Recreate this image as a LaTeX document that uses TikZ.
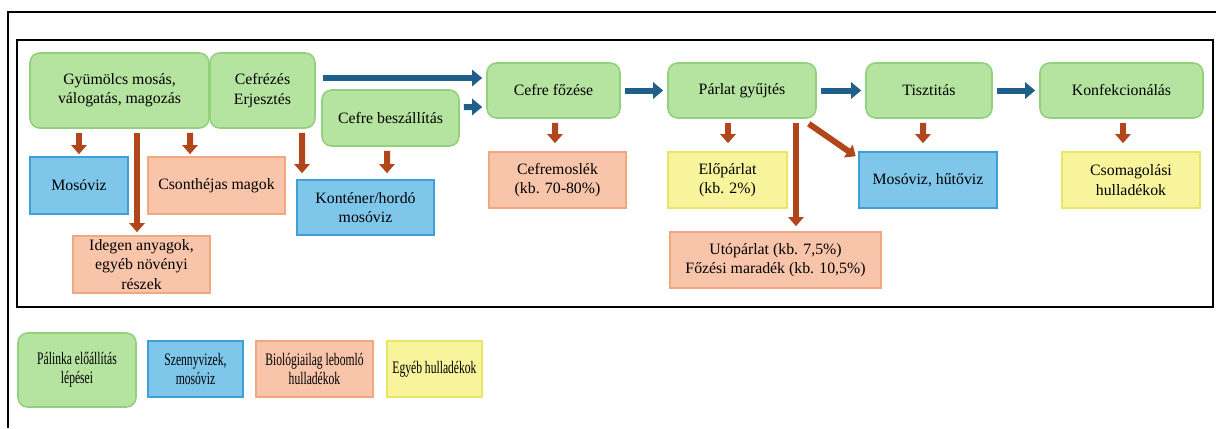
\documentclass[tikz,border=0pt]{standalone}
\usepackage{fontspec}
\setmainfont{Liberation Serif}
\newfontfamily\legendfont[FakeStretch=0.66]{Liberation Serif}
\usepackage{xcolor}
\usepackage{tikz}
\usetikzlibrary{arrows.meta, positioning, calc}
\definecolor{stepcol}{RGB}{181,227,160}
\definecolor{stepline}{RGB}{146,208,124}
\definecolor{watercol}{RGB}{127,199,234}
\definecolor{waterline}{RGB}{62,160,214}
\definecolor{biocol}{RGB}{248,197,170}
\definecolor{bioline}{RGB}{240,168,128}
\definecolor{othercol}{RGB}{248,244,156}
\definecolor{otherline}{RGB}{234,229,104}
\definecolor{flowcol}{RGB}{31,95,137}
\definecolor{wastecol}{RGB}{176,70,26}

\begin{document}
\begin{tikzpicture}[
  font=\fontsize{9}{11}\selectfont,
  stepbox/.style={draw=stepline, fill=stepcol, line width=0.9pt,
                  rounded corners=5.5pt, align=center, inner sep=0pt},
  waterbox/.style={draw=waterline, fill=watercol, line width=0.9pt,
                   align=center, inner sep=0pt},
  biobox/.style={draw=bioline, fill=biocol, line width=0.9pt,
                 align=center, inner sep=0pt},
  otherbox/.style={draw=otherline, fill=othercol, line width=0.9pt,
                   align=center, inner sep=0pt},
  legend/.style={font=\legendfont\fontsize{10}{11}\selectfont},
  flow/.style={-{Triangle[length=0.2cm, width=0.32cm]}, line width=0.12cm,
               flowcol, shorten <=0.08cm, shorten >=0.08cm},
  waste/.style={-{Triangle[length=0.18cm, width=0.3cm]}, line width=0.12cm,
                wastecol, shorten <=0.08cm}
]
  \useasboundingbox (0,0) rectangle (24.32,8.56);
  \draw[line width=1pt] (24.32,8.32) -- (0.16,8.32) -- (0.16,0);
  \draw[line width=1pt] (0.34,2.42) rectangle (24.26,7.76);

  % production steps
  \node[stepbox, minimum width=3.58cm, minimum height=1.5cm] (gyum) at (2.39,6.75)
    {Gyümölcs mosás,\\válogatás, magozás};
  \node[stepbox, minimum width=2.1cm, minimum height=1.5cm] (cefrez) at (5.25,6.75)
    {Cefrézés\\Erjesztés};
  \node[stepbox, minimum width=2.74cm, minimum height=1.12cm] (beszal) at (7.81,6.2)
    {Cefre beszállítás};
  \node[stepbox, minimum width=2.66cm, minimum height=1.1cm] (fozes) at (11.07,6.75)
    {Cefre főzése};
  \node[stepbox, minimum width=2.96cm, minimum height=1.1cm] (parlat) at (14.84,6.75)
    {Párlat gyűjtés};
  \node[stepbox, minimum width=2.52cm, minimum height=1.1cm] (tiszt) at (18.58,6.75)
    {Tisztitás};
  \node[stepbox, minimum width=3.26cm, minimum height=1.1cm] (konf) at (22.43,6.75)
    {Konfekcionálás};

  \draw[flow, shorten <=0.14cm] ([yshift=0.25cm]cefrez.east) -- ([yshift=0.25cm]fozes.west);
  \draw[flow] ([yshift=0.22cm]beszal.east) -- ([yshift=-0.33cm]fozes.west);
  \draw[flow] (fozes) -- (parlat);
  \draw[flow] (parlat) -- (tiszt);
  \draw[flow] (tiszt) -- (konf);

  % waste streams
  \node[waterbox, minimum width=1.96cm, minimum height=1.14cm] (mosoviz) at (1.58,4.85)
    {Mosóviz};
  \node[biobox, minimum width=2.74cm, minimum height=1.14cm] (csont) at (4.33,4.85)
    {Csonthéjas magok};
  \node[biobox, minimum width=2.74cm, minimum height=1.14cm] (idegen) at (2.83,3.27)
    {Idegen anyagok,\\egyéb növényi\\részek};
  \node[waterbox, minimum width=2.74cm, minimum height=1.1cm] (kontener) at (7.31,4.41)
    {Konténer/hordó\\mosóviz};
  \node[biobox, minimum width=2.74cm, minimum height=1.12cm] (moslek) at (11.15,4.96)
    {Cefremoslék\\(kb. 70-80\%)};
  \node[otherbox, minimum width=2.38cm, minimum height=1.12cm] (elo) at (14.55,4.96)
    {Előpárlat\\(kb. 2\%)};
  \node[biobox, minimum width=4.22cm, minimum height=1.12cm] (uto) at (15.51,3.36)
    {Utópárlat (kb. 7,5\%)\\Főzési maradék (kb. 10,5\%)};
  \node[waterbox, minimum width=2.76cm, minimum height=1.12cm] (hutoviz) at (18.56,4.96)
    {Mosóviz, hűtőviz};
  \node[otherbox, minimum width=2.76cm, minimum height=1.12cm] (csomag) at (22.62,4.96)
    {Csomagolási\\hulladékok};

  \draw[waste, shorten >=0.04cm] (gyum.south -| mosoviz.north) -- (mosoviz.north);
  \draw[waste, shorten >=0.06cm] ([xshift=-0.09cm]gyum.south -| idegen.north) -- ([xshift=-0.09cm]idegen.north);
  \draw[waste, shorten >=0.04cm] ([xshift=1.41cm]gyum.south) -- ([xshift=-0.53cm]csont.north);
  \draw[waste, shorten >=0.12cm] ([xshift=0.79cm]cefrez.south) -- ([xshift=-1.27cm]kontener.north);
  \draw[waste, shorten >=0.12cm] ([xshift=-0.07cm]beszal.south) -- ([xshift=0.43cm]kontener.north);
  \draw[waste, shorten >=0.16cm] ([xshift=0.03cm]fozes.south) -- ([xshift=-0.05cm]moslek.north);
  \draw[waste, shorten >=0.16cm] ([xshift=-0.28cm]parlat.south) -- ([xshift=0.01cm]elo.north);
  \draw[waste, shorten >=0.1cm] ([xshift=1.08cm]parlat.south) -- ([xshift=0.41cm]uto.north);
  \draw[waste, shorten <=0cm] ([shift={(-0.16,-0.1)}]parlat.south east) -- ([shift={(-0.05,-0.1)}]hutoviz.north west);
  \draw[waste, shorten >=0.16cm] ([xshift=-0.12cm]tiszt.south) -- ([xshift=-0.1cm]hutoviz.north);
  \draw[waste, shorten >=0.16cm] ([xshift=0.03cm]konf.south) -- ([xshift=-0.16cm]csomag.north);

  % legend
  \node[stepbox, legend, minimum width=2.36cm, minimum height=1.48cm] (lgstep) at (1.54,1.16)
    {Pálinka előállítás\\lépései};
  \node[waterbox, legend, minimum width=1.9cm, minimum height=1.12cm] (lgwater) at (3.91,1.18)
    {Szennyvizek,\\mosóviz};
  \node[biobox, legend, minimum width=2.34cm, minimum height=1.12cm] (lgbio) at (6.29,1.18)
    {Biológiailag lebomló\\hulladékok};
  \node[otherbox, legend, minimum width=1.9cm, minimum height=1.12cm] (lgother) at (8.69,1.18)
    {Egyéb hulladékok};
\end{tikzpicture}
\end{document}
